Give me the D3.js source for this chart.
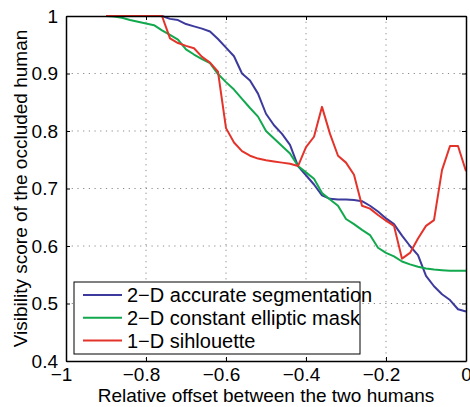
<!DOCTYPE html>
<html>
<head>
<meta charset="utf-8">
<title>Visibility score</title>
<script src="https://d3js.org/d3.v7.min.js"></script>
<style>
  body { margin: 0; background: #fff; }
  text { font-family: "Liberation Sans", Arial, sans-serif; fill: #000; }
  .grid line { stroke: #8a8a8a; stroke-dasharray: 1.2 4.5; stroke-width: 1; }
</style>
</head>
<body>
<svg width="470" height="407"></svg>
<script>
// offsets sampled every 0.02 from -0.9 to 0
var offsets = d3.range(-0.9, 0.0001, 0.02).map(function (d) { return +d.toFixed(2); });

var accurate = [1.0, 1.0, 1.0, 1.0, 1.0, 1.0, 1.0, 1.0, 0.995, 0.993,
  0.986, 0.982, 0.978, 0.973, 0.96, 0.945, 0.93, 0.90, 0.888, 0.865,
  0.83, 0.81, 0.795, 0.776, 0.739, 0.723, 0.707, 0.688, 0.682, 0.681,
  0.681, 0.68, 0.678, 0.67, 0.66, 0.648, 0.638, 0.618, 0.60, 0.584,
  0.548, 0.53, 0.516, 0.506, 0.49, 0.486];

var elliptic = [1.0, 0.999, 0.997, 0.993, 0.99, 0.987, 0.984, 0.975, 0.967, 0.959,
  0.942, 0.933, 0.925, 0.918, 0.899, 0.885, 0.872, 0.856, 0.84, 0.825,
  0.80, 0.787, 0.774, 0.761, 0.739, 0.728, 0.717, 0.692, 0.681, 0.67,
  0.647, 0.638, 0.628, 0.619, 0.597, 0.588, 0.582, 0.573, 0.568, 0.564,
  0.561, 0.559, 0.558, 0.557, 0.557, 0.557];

var silhouette = [1.0, 1.0, 1.0, 1.0, 1.0, 1.0, 1.0, 1.0, 0.961, 0.953,
  0.948, 0.944, 0.929, 0.919, 0.903, 0.805, 0.78, 0.765, 0.757, 0.752,
  0.749, 0.747, 0.745, 0.743, 0.739, 0.772, 0.79, 0.842, 0.795, 0.757,
  0.745, 0.724, 0.67, 0.665, 0.654, 0.644, 0.635, 0.578, 0.588, 0.613,
  0.635, 0.645, 0.732, 0.774, 0.774, 0.73];

var seriesNames = ["2\u2212D accurate segmentation", "2\u2212D constant elliptic mask", "1\u2212D sihlouette"];
var seriesColors = ["#3c3a9c", "#12a84e", "#e4332a"];
var xTicks = [-1, -0.8, -0.6, -0.4, -0.2, 0];
var yTicks = [0.4, 0.5, 0.6, 0.7, 0.8, 0.9, 1];

var margin = { left: 66, right: 4, top: 16, bottom: 46 };
var width = 470 - margin.left - margin.right;
var height = 407 - margin.top - margin.bottom;

var svg = d3.select("svg");
var g = svg.append("g").attr("transform", "translate(" + margin.left + "," + margin.top + ")");

var x = d3.scaleLinear().domain([-1, 0]).range([0, width]);
var y = d3.scaleLinear().domain([0.4, 1]).range([height, 0]);

// dotted grid
var grid = g.append("g").attr("class", "grid");
grid.selectAll(".gx").data(xTicks.slice(1, -1)).enter().append("line")
  .attr("x1", function (d) { return x(d); }).attr("x2", function (d) { return x(d); })
  .attr("y1", 0).attr("y2", height);
grid.selectAll(".gy").data(yTicks.slice(1, -1)).enter().append("line")
  .attr("y1", function (d) { return y(d); }).attr("y2", function (d) { return y(d); })
  .attr("x1", 0).attr("x2", width);

// the lines
var line = d3.line()
  .x(function (d) { return x(d[0]); })
  .y(function (d) { return y(d[1]); });

[accurate, elliptic, silhouette].forEach(function (vals, i) {
  g.append("path")
    .datum(vals.map(function (v, j) { return [offsets[j], v]; }))
    .attr("fill", "none")
    .attr("stroke", seriesColors[i])
    .attr("stroke-width", 2)
    .attr("stroke-linejoin", "round")
    .attr("d", line);
});

// axes on all four sides, ticks pointing in
function styleAxis(sel) {
  sel.select(".domain").attr("stroke", "#000").attr("stroke-width", 1.5);
  sel.selectAll(".tick line").attr("stroke", "#000");
  sel.selectAll("text").style("font-size", "19px");
}

var fmt = d3.format("");
var xAxis = g.append("g").attr("transform", "translate(0," + height + ")")
  .call(d3.axisBottom(x).tickValues(xTicks).tickFormat(fmt).tickSizeInner(-4).tickSizeOuter(0).tickPadding(7));
xAxis.call(styleAxis);
xAxis.selectAll("text").attr("dx", function (d) { return d < 0 ? -5 : 0; }).attr("dy", "0.7em");

var yAxis = g.append("g")
  .call(d3.axisLeft(y).tickValues(yTicks).tickFormat(fmt).tickSizeInner(-4).tickSizeOuter(0).tickPadding(8));
yAxis.call(styleAxis);

g.append("g").call(d3.axisTop(x).tickValues(xTicks).tickFormat("").tickSizeInner(-4).tickSizeOuter(0)).call(styleAxis);
g.append("g").attr("transform", "translate(" + width + ",0)")
  .call(d3.axisRight(y).tickValues(yTicks).tickFormat("").tickSizeInner(-4).tickSizeOuter(0)).call(styleAxis);

// axis titles
svg.append("text")
  .attr("x", margin.left + width / 2)
  .attr("y", 402)
  .attr("text-anchor", "middle")
  .style("font-size", "19px")
  .text("Relative offset between the two humans");

svg.append("text")
  .attr("transform", "rotate(-90)")
  .attr("x", -(margin.top + height / 2))
  .attr("y", 27)
  .attr("text-anchor", "middle")
  .style("font-size", "19px")
  .text("Visibility score of the occluded human");

// legend
var legend = svg.append("g").attr("transform", "translate(74,282)");
legend.append("rect")
  .attr("width", 286).attr("height", 72)
  .attr("fill", "#fff").attr("stroke", "#000").attr("stroke-width", 1);

seriesNames.forEach(function (name, i) {
  var ly = 13 + i * 22.8;
  legend.append("line")
    .attr("x1", 9).attr("x2", 48)
    .attr("y1", ly).attr("y2", ly)
    .attr("stroke", seriesColors[i]).attr("stroke-width", 2);
  legend.append("text")
    .attr("x", 53).attr("y", ly)
    .attr("dy", "0.35em")
    .style("font-size", "20px")
    .text(name);
});
</script>
</body>
</html>
